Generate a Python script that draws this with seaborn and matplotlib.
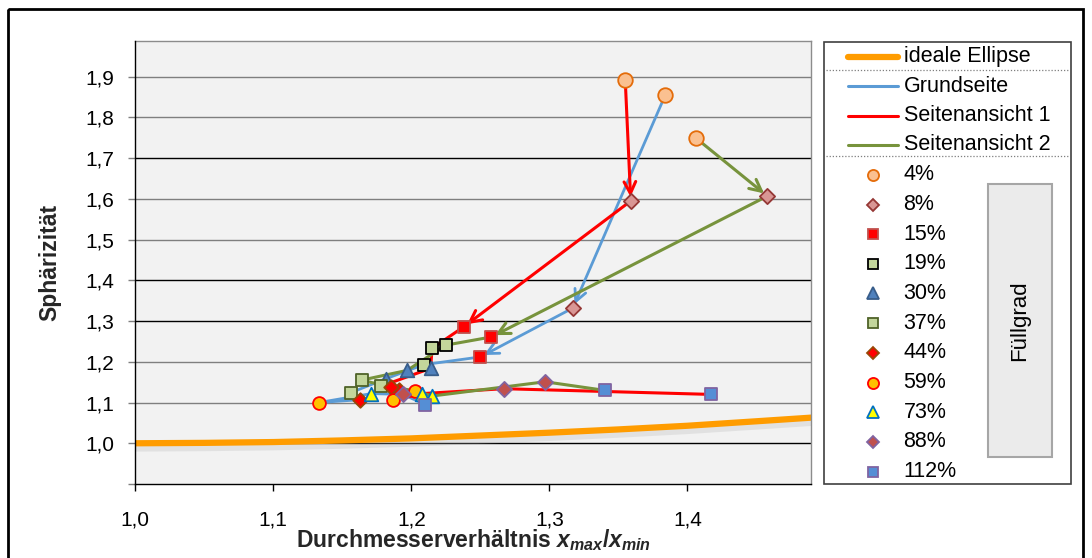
import numpy as np
import pandas as pd
import matplotlib
matplotlib.use("Agg")
import matplotlib.pyplot as plt
import matplotlib.patheffects as pe
from matplotlib.patches import Rectangle
import seaborn as sns

sns.set_theme(style="white")
plt.rcParams['font.family'] = ['Liberation Sans', 'DejaVu Sans']
plt.rcParams['mathtext.fontset'] = 'custom'
plt.rcParams['mathtext.it'] = 'Liberation Sans:bold:italic'
plt.rcParams['mathtext.rm'] = 'Liberation Sans:bold'
plt.rcParams['mathtext.bf'] = 'Liberation Sans:bold'

# ---------------- data ----------------
fill_grades = ["4%", "8%", "15%", "19%", "30%", "37%", "44%", "59%", "73%", "88%", "112%"]

grund_x = [1.384, 1.317, 1.250, 1.209, 1.182, 1.156, 1.163, 1.133, 1.171, 1.194, 1.210]
grund_y = [1.855, 1.332, 1.212, 1.193, 1.159, 1.124, 1.107, 1.100, 1.122, 1.120, 1.095]

seite1_x = [1.355, 1.359, 1.238, 1.215, 1.214, 1.178, 1.191, 1.187, 1.208, 1.267, 1.417]
seite1_y = [1.892, 1.595, 1.286, 1.233, 1.184, 1.140, 1.132, 1.106, 1.122, 1.134, 1.120]

seite2_x = [1.406, 1.458, 1.258, 1.225, 1.197, 1.164, 1.185, 1.203, 1.215, 1.297, 1.340]
seite2_y = [1.750, 1.607, 1.261, 1.241, 1.179, 1.155, 1.138, 1.129, 1.116, 1.151, 1.130]

ellipse_x = [1.00, 1.05, 1.10, 1.15, 1.20, 1.25, 1.30, 1.35, 1.40, 1.45, 1.49]
ellipse_y = [1.000, 1.001, 1.003, 1.007, 1.012, 1.019, 1.026, 1.034, 1.043, 1.054, 1.063]

series_names = ["Grundseite", "Seitenansicht 1", "Seitenansicht 2"]
series_colors = ["#5b9bd5", "#ff0000", "#77933c"]
series_lw = [2.0, 2.2, 2.2]

# marker styles per fill grade: (marker, face, edge, size)
marker_styles = {
    "4%": ("o", "#fac090", "#e46c0a", 110),
    "8%": ("D", "#d99694", "#953735", 60),
    "15%": ("s", "#ff0000", "#c0504d", 75),
    "19%": ("s", "#c3d69b", "#000000", 75),
    "30%": ("^", "#4f81bd", "#385d8a", 95),
    "37%": ("s", "#c3d69b", "#4f6228", 75),
    "44%": ("D", "#ff0000", "#984807", 55),
    "59%": ("o", "#ffc000", "#ff0000", 85),
    "73%": ("^", "#ffff00", "#0070c0", 95),
    "88%": ("D", "#c0504d", "#8064a2", 60),
    "112%": ("s", "#558ed5", "#8064a2", 80),
}

# ---------------- figure ----------------
W, H = 1092, 558
fig = plt.figure(figsize=(W / 100, H / 100), dpi=100)
fig.patch.set_facecolor("white")

L, R, T, B = 135.3, 811.0, 40.7, 484.0
ax = fig.add_axes([L / W, 1 - B / H, (R - L) / W, (B - T) / H])
ax.set_facecolor("#f2f2f2")

xmin, xmax = 1.0, 1.4896
ymin, ymax = 0.9, 1.9885
ax.set_xlim(xmin, xmax)
ax.set_ylim(ymin, ymax)

# gridlines
grid_cols = {1.0: "#000000", 1.1: "#7f7f7f", 1.2: "#7f7f7f", 1.3: "#000000", 1.4: "#000000",
             1.5: "#7f7f7f", 1.6: "#7f7f7f", 1.7: "#000000", 1.8: "#7f7f7f", 1.9: "#7f7f7f"}
for yv, c in grid_cols.items():
    ax.axhline(yv, color=c, lw=1.0, zorder=0.5)

# ideal ellipse
df_ell = pd.DataFrame({"x": ellipse_x, "y": ellipse_y})
sns.lineplot(data=df_ell, x="x", y="y", ax=ax, color="#ff9c00", lw=4.5, sort=False,
             zorder=2, path_effects=[pe.SimpleLineShadow(offset=(0, -2.5), shadow_color="#b0b0b0", alpha=0.25, rho=1.0,
                                                         linewidth=7),
                                     pe.Normal()])

# series lines
all_series = [(grund_x, grund_y), (seite1_x, seite1_y), (seite2_x, seite2_y)]
for (xs, ys), name, col, lw in zip(all_series, series_names, series_colors, series_lw):
    df = pd.DataFrame({"x": xs[2:], "y": ys[2:]})
    sns.lineplot(data=df, x="x", y="y", ax=ax, color=col, lw=lw, sort=False, zorder=3)
    for i in range(2):
        ax.annotate("", xy=(xs[i + 1], ys[i + 1]), xytext=(xs[i], ys[i]),
                    arrowprops=dict(arrowstyle="->,head_length=0.7,head_width=0.35", color=col, lw=lw,
                                    shrinkA=0, shrinkB=3),
                    zorder=3)

# markers
for i, fg in enumerate(fill_grades):
    m, fc, ec, s = marker_styles[fg]
    df = pd.DataFrame({"x": [grund_x[i], seite1_x[i], seite2_x[i]],
                       "y": [grund_y[i], seite1_y[i], seite2_y[i]]})
    sns.scatterplot(data=df, x="x", y="y", ax=ax, marker=m, color=fc, edgecolor=ec,
                    linewidth=1.3, s=s, zorder=4 + i * 0.01)

# axes styling
ax.set_xticks([1.0, 1.1, 1.2, 1.3, 1.4])
ax.set_xticklabels(["1,0", "1,1", "1,2", "1,3", "1,4"])
ax.set_yticks([0.9, 1.0, 1.1, 1.2, 1.3, 1.4, 1.5, 1.6, 1.7, 1.8, 1.9])
ax.set_yticklabels(["", "1,0", "1,1", "1,2", "1,3", "1,4", "1,5", "1,6", "1,7", "1,8", "1,9"])
ax.tick_params(axis="x", direction="out", length=5, width=1, color="black", pad=14, labelsize=15,
               labelcolor="black", bottom=True)
ax.tick_params(axis="y", direction="out", length=5, width=1, color="#7f7f7f", pad=10, labelsize=15,
               labelcolor="black", left=True)
for side in ["top", "right"]:
    ax.spines[side].set_color("#8c8c8c")
    ax.spines[side].set_linewidth(1.0)
for side in ["left", "bottom"]:
    ax.spines[side].set_color("black")
    ax.spines[side].set_linewidth(1.0)
    ax.spines[side].set_zorder(6)

ax.set_xlabel(r"Durchmesserverhältnis $x_{max}/x_{min}$", fontsize=16.5, fontweight="bold")
ax.xaxis.set_label_coords(0.5, (B - 540) / (B - T))
ax.xaxis.label.set_va("center")
ax.set_ylabel("Sphärizität", fontsize=16.5, fontweight="bold")
ax.yaxis.set_label_coords((50 - L) / (R - L), 0.5)
ax.yaxis.label.set_va("center")

# ---------------- legend (pixel coordinates) ----------------
lax = fig.add_axes([0, 0, 1, 1], facecolor="none")
lax.set_xlim(0, W)
lax.set_ylim(H, 0)
lax.axis("off")

# outer chart border
lax.add_patch(Rectangle((8, 9), 1075, 560, fill=False, edgecolor="black", lw=2.0))

# legend box
lax.add_patch(Rectangle((824.3, 42.3), 246.4, 441.7, facecolor="white", edgecolor="#404040", lw=1.2))
for ysep in [70, 156]:
    lax.plot([826, 1069], [ysep, ysep], ls=(0, (1, 1.5)), color="#7f7f7f", lw=0.9)

line_entries = [("ideale Ellipse", "#ff9c00", 4.5, 56.7),
                ("Grundseite", "#5b9bd5", 2.2, 86),
                ("Seitenansicht 1", "#ff0000", 2.2, 115.5),
                ("Seitenansicht 2", "#77933c", 2.2, 145)]
for label, col, lw, yy in line_entries:
    lax.plot([848, 898], [yy, yy], color=col, lw=lw, solid_capstyle="round")
    lax.text(904, yy, label, fontsize=15.5, va="center", ha="left", color="black")

row_y = [175, 204.5, 234, 263.7, 293.4, 323.1, 352.8, 382.5, 412.2, 441.9, 471.6]
legend_msize = {"o": 8, "D": 6, "s": 7.5, "^": 8}
for fg, yy in zip(fill_grades, row_y):
    m, fc, ec, s = marker_styles[fg]
    lax.plot([873.3], [yy], marker=m, ms=legend_msize[m], mfc=fc, mec=ec, mew=1.3, ls="none")
    lax.text(903.5, yy, fg, fontsize=15.5, va="center", ha="left", color="black")

lax.add_patch(Rectangle((987.7, 184), 64.6, 272.7, facecolor="#ebebeb", edgecolor="#a6a6a6", lw=1.5))
lax.text(1020, 320.3, "Füllgrad", fontsize=16, rotation=90, va="center", ha="center", color="black")

fig.savefig("out.png", dpi=100)
